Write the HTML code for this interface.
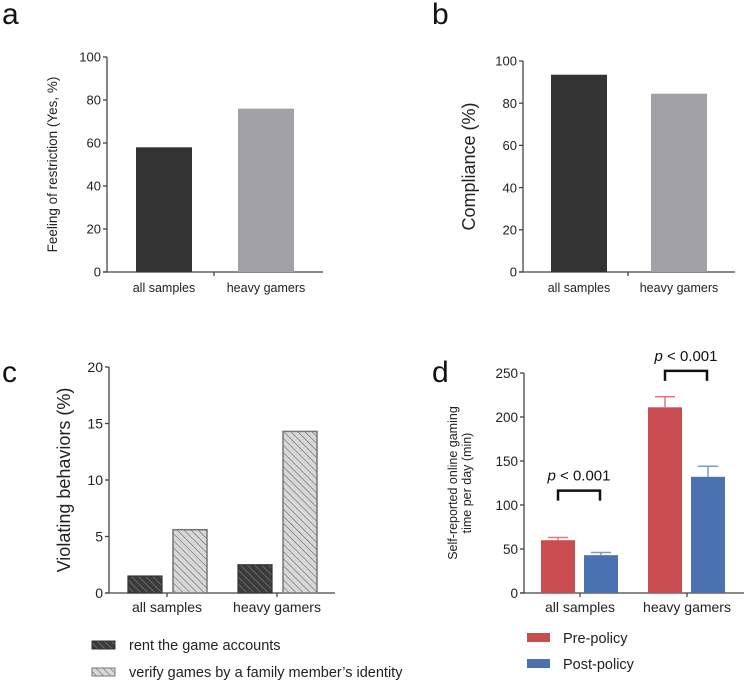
<!DOCTYPE html>
<html><head><meta charset="utf-8"><style>
body{margin:0;background:#fff}
svg{display:block;font-family:"Liberation Sans",Arial,sans-serif}
</style></head><body>
<svg id="fig" width="746" height="682" viewBox="0 0 746 682" xmlns="http://www.w3.org/2000/svg">
<defs>
<pattern id="hatchDark" patternUnits="userSpaceOnUse" width="5" height="5" patternTransform="rotate(-45)">
<rect width="5" height="5" fill="#3a3a3a"/><line x1="0" y1="0" x2="0" y2="5" stroke="#777" stroke-width="1.5"/></pattern>
<pattern id="hatchLight" patternUnits="userSpaceOnUse" width="5" height="5" patternTransform="rotate(-45)">
<rect width="5" height="5" fill="#d8d8d8"/><line x1="0" y1="0" x2="0" y2="5" stroke="#666" stroke-width="1.2"/></pattern>
</defs>
<text x="2" y="24" font-size="30" fill="#111">a</text>
<text x="432" y="24" font-size="30" fill="#111">b</text>
<text x="2" y="382" font-size="30" fill="#111">c</text>
<text x="432" y="382" font-size="30" fill="#111">d</text>
<g id="gA"></g>
<g id="gB"></g>
<g id="gC"></g>
<g id="gD"></g>
</svg>
<script>
const groups = ["all samples", "heavy gamers"];
const restrictionValues = [58, 76];
const complianceValues = [93.5, 84.5];
const rentValues = [1.5, 2.5];
const verifyValues = [5.6, 14.3];
const preValues = [60, 211];
const preErr = [3, 12];
const postValues = [43, 132];
const postErr = [3, 12];
const bracketLevels = [105, 241];
const ticksA = [0, 20, 40, 60, 80, 100];
const ticksC = [0, 5, 10, 15, 20];
const ticksD = [0, 50, 100, 150, 200, 250];
const NS = "http://www.w3.org/2000/svg";
function mk(parent, tag, attrs, text){
  const e = document.createElementNS(NS, tag);
  for (const k in attrs) e.setAttribute(k, attrs[k]);
  if (text !== undefined) e.textContent = text;
  parent.appendChild(e); return e;
}
function axes(g, ax, yTop, yBot, xEnd, ticks, yMax, fs, title, titleX, titleFs, midTick){
  const y = v => yBot - (yBot - yTop) * v / yMax;
  let l = mk(g, "line", {x1: ax, y1: yTop, x2: ax, y2: yBot, stroke: "#444", "stroke-width": 1.3});
  
  
  l = mk(g, "line", {x1: ax - 4, y1: yBot, x2: xEnd, y2: yBot, stroke: "#444", "stroke-width": 1.3});
  
  
  if (midTick) mk(g, "line", {x1: midTick, y1: yBot, x2: midTick, y2: yBot + 4, stroke: "#444", "stroke-width": 1.3});
  ticks.forEach(t => {
    mk(g, "line", {x1: ax - 4, y1: y(t), x2: ax, y2: y(t), stroke: "#444", "stroke-width": 1.3});
    const tx = mk(g, "text", {x: ax - 6, y: y(t) + fs * 0.36, "font-size": fs, "text-anchor": "end", fill: "#222"}, t);
    
    
  });
  const ty = (yTop + yBot) / 2;
  const tt = mk(g, "text", {x: titleX, y: ty, "font-size": titleFs, "text-anchor": "middle", fill: "#222", transform: `rotate(-90 ${titleX} ${ty})`});
  if (Array.isArray(title)) {
    title.forEach((s, i) => { mk(tt, "tspan", {x: titleX, dy: i === 0 ? 0 : titleFs * 1.1}, s); });
  } else tt.textContent = title;
  
  
  return y;
}
function xLabel(g, x, yy, s, fs){
  const t = mk(g, "text", {x: x, y: yy, "font-size": fs, "text-anchor": "middle", fill: "#222"}, s);
  
  
}
// Panel a
(function(){
  const g = document.getElementById("gA");
  const y = axes(g, 107, 57, 272, 323, ticksA, 100, 13, "Feeling of restriction (Yes, %)", 57, 13.5, 214);
  const xs = [136, 238], fills = ["#333333", "#a2a1a6"];
  restrictionValues.forEach((v, i) => {
    const r = mk(g, "rect", {x: xs[i], y: y(v), width: 56, height: 272 - y(v), fill: fills[i]});
    
    
    xLabel(g, xs[i] + 28, 292, groups[i], 12.5);
  });
})();
// Panel b
(function(){
  const g = document.getElementById("gB");
  const y = axes(g, 523, 61, 272, 735, ticksA, 100, 13, "Compliance (%)", 475, 18, 628);
  const xs = [551, 651], fills = ["#333333", "#a2a1a6"];
  complianceValues.forEach((v, i) => {
    const r = mk(g, "rect", {x: xs[i], y: y(v), width: 56, height: 272 - y(v), fill: fills[i]});
    
    
    xLabel(g, xs[i] + 28, 292, groups[i], 12.5);
  });
})();
// Panel c
(function(){
  const g = document.getElementById("gC");
  const y = axes(g, 109, 367, 593, 335, ticksC, 20, 14, "Violating behaviors (%)", 70, 18, null);
  const centers = [167, 277];
  centers.forEach(c => mk(g, "line", {x1: c, y1: 593, x2: c, y2: 597, stroke: "#444", "stroke-width": 1.3}));
  groups.forEach((gName, i) => {
    const c = centers[i];
    let r = mk(g, "rect", {x: c - 39, y: y(rentValues[i]), width: 34, height: 593 - y(rentValues[i]), fill: "url(#hatchDark)", stroke: "#333", "stroke-width": 1.2});
    
    
    r = mk(g, "rect", {x: c + 6, y: y(verifyValues[i]), width: 34, height: 593 - y(verifyValues[i]), fill: "url(#hatchLight)", stroke: "#777", "stroke-width": 1.5});
    
    
    xLabel(g, c, 612, gName, 14);
  });
  let s = mk(g, "rect", {x: 92, y: 641, width: 23, height: 8, fill: "url(#hatchDark)", stroke: "#333"});
  
  
  let t = mk(g, "text", {x: 129, y: 650, "font-size": 14.5, fill: "#222"}, "rent the game accounts");
  
  
  s = mk(g, "rect", {x: 92, y: 668, width: 23, height: 8, fill: "url(#hatchLight)", stroke: "#777"});
  
  
  t = mk(g, "text", {x: 129, y: 677, "font-size": 14.5, fill: "#222"}, "verify games by a family member\u2019s identity");
  
  
})();
// Panel d
(function(){
  const g = document.getElementById("gD");
  const y = axes(g, 524, 373, 593, 744, ticksD, 250, 13.5, ["Self-reported online gaming", "time per day (min)"], 457, 12.5, null);
  const centers = [580, 687];
  centers.forEach(c => mk(g, "line", {x1: c, y1: 593, x2: c, y2: 597, stroke: "#444", "stroke-width": 1.3}));
  groups.forEach((gName, i) => {
    const c = centers[i];
    const series = [[preValues, preErr, "#c94c50", "#e07a7d", c - 39, "pre"], [postValues, postErr, "#4a72b0", "#7a9ad0", c + 4, "post"]];
    series.forEach(([vals, errs, fill, ecol, x0, nm]) => {
      const v = vals[i];
      const r = mk(g, "rect", {x: x0, y: y(v), width: 34, height: 593 - y(v), fill: fill});
      
      
      const xm = x0 + 17, ye = y(v + errs[i]);
      const e = mk(g, "path", {d: `M${xm} ${y(v)} V${ye} M${xm - 10} ${ye} H${xm + 10}`, stroke: ecol, "stroke-width": 1.5, fill: "none"});
      
      
    });
    const bBot = y(bracketLevels[i]);
    const by = bBot - 10;
    const bx1 = c - 22, bx2 = c + 20;
    const b = mk(g, "path", {d: `M${bx1} ${bBot} V${by} H${bx2} V${bBot}`, stroke: "#111", "stroke-width": 2.5, fill: "none"});
    
    
    const pt = mk(g, "text", {x: c - 1, y: by - 10, "font-size": 15, "text-anchor": "middle", fill: "#111"});
    mk(pt, "tspan", {"font-style": "italic"}, "p");
    mk(pt, "tspan", {}, " < 0.001");
    
    
    xLabel(g, c, 612, gName, 14);
  });
  let s = mk(g, "rect", {x: 527, y: 633, width: 23, height: 9, fill: "#c94c50"});
  
  
  let t = mk(g, "text", {x: 563, y: 643, "font-size": 14.5, fill: "#222"}, "Pre-policy");
  
  
  s = mk(g, "rect", {x: 527, y: 659, width: 23, height: 9, fill: "#4a72b0"});
  
  
  t = mk(g, "text", {x: 563, y: 669, "font-size": 14.5, fill: "#222"}, "Post-policy");
  
  
})();
</script>
</body></html>
